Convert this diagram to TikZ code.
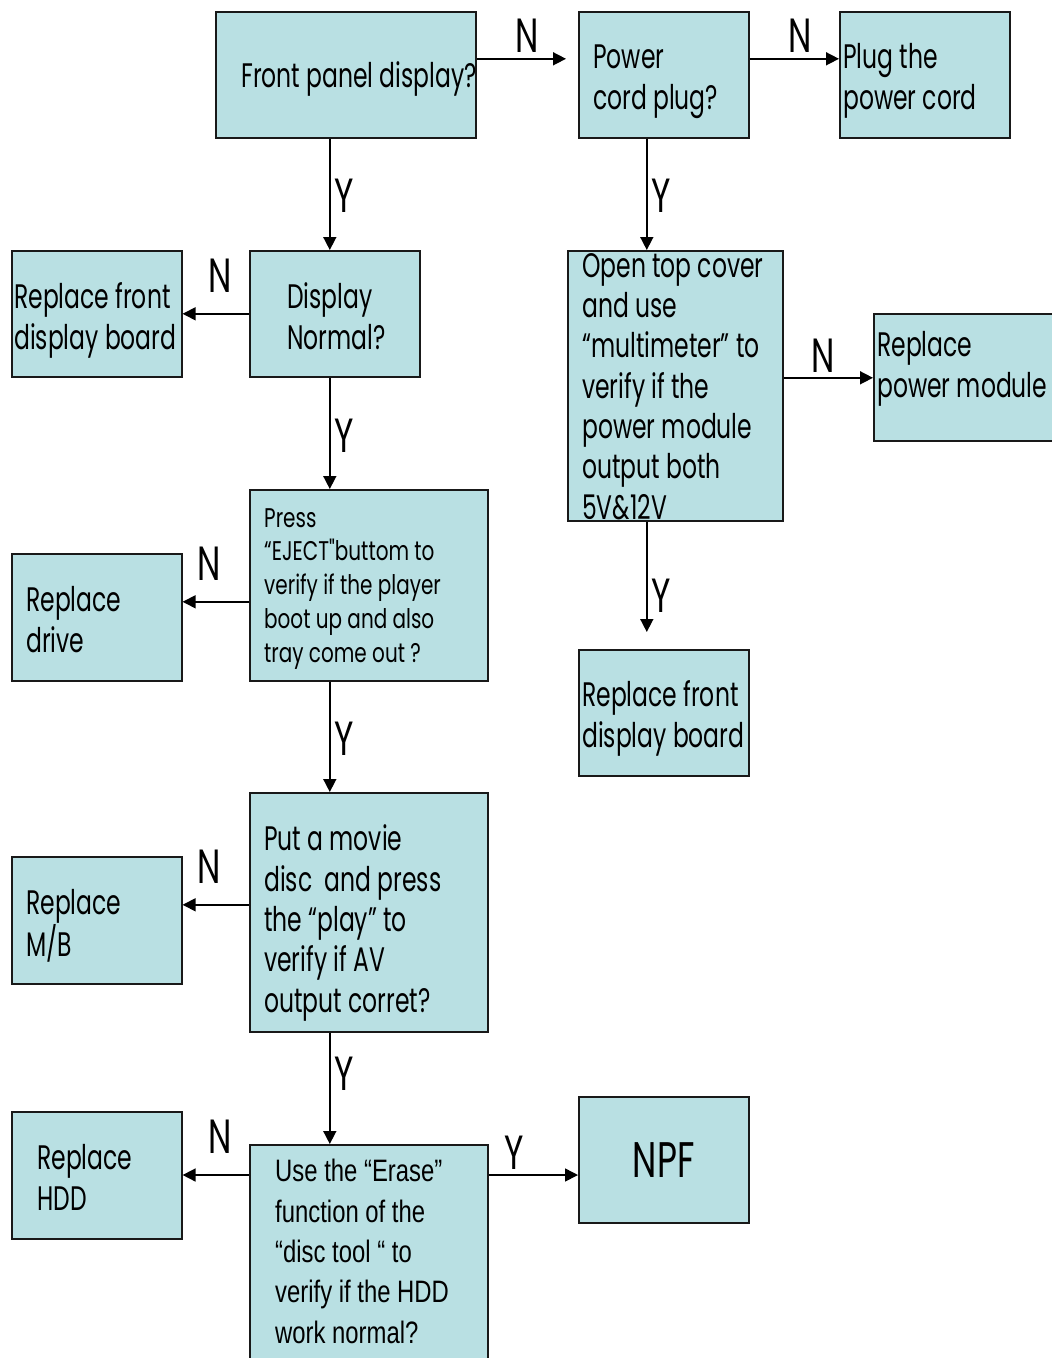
\documentclass[tikz,border=0pt]{standalone}
\usepackage{fontspec}
\setmainfont{Poppins}[FakeStretch=0.69]
\newfontfamily\ejectfont{Poppins}[FakeStretch=0.74]
\newfontfamily\narrowfont{Liberation Sans}[FakeStretch=0.77]
\usepackage{tikz}
\usetikzlibrary{positioning, arrows.meta}
\definecolor{boxblue}{HTML}{B9E0E3}

\begin{document}
\begin{tikzpicture}[x=1pt, y=-1pt,
  box/.style={draw=black!90, fill=boxblue, line width=1.6pt, anchor=north west, inner sep=0pt},
  % texts are placed by the baseline of their last line
  txt/.style={anchor=base west, align=left, inner sep=0pt, font=\fontsize{34}{40.3}\selectfont},
  smalltxt/.style={anchor=base west, align=left, inner sep=0pt, font=\ejectfont\fontsize{27}{33.7}\selectfont},
  narrowtxt/.style={anchor=base west, align=left, inner sep=0pt, font=\narrowfont\fontsize{31}{40.3}\selectfont},
  lbl/.style={inner sep=0pt, font=\fontsize{48}{48}\selectfont},
  arr/.style={-{Triangle[length=13pt,width=13pt]}, line width=1.6pt}]
\useasboundingbox (0,0) rectangle (1052,1358);

% Boxes
\node[box, minimum width=260pt, minimum height=126pt] (fpd) at (215,11) {};
\node[box, minimum width=170pt, minimum height=126pt] (pcp) at (578,11) {};
\node[box, minimum width=170pt, minimum height=126pt] (plug) at (839,11) {};
\node[box, minimum width=170pt, minimum height=126pt] (dn) at (249,250) {};
\node[box, minimum width=170pt, minimum height=126pt] (rfdA) at (11,250) {};
\node[box, minimum width=215pt, minimum height=270pt] (otc) at (567,250) {};
\node[box, minimum width=190pt, minimum height=127pt] (rpm) at (873,313) {};
\node[box, minimum width=170pt, minimum height=126pt] (rfdB) at (578,649) {};
\node[box, minimum width=238pt, minimum height=191pt] (eject) at (249,489) {};
\node[box, minimum width=170pt, minimum height=127pt] (rdrive) at (11,553) {};
\node[box, minimum width=238pt, minimum height=239pt] (movie) at (249,792) {};
\node[box, minimum width=170pt, minimum height=127pt] (rmb) at (11,856) {};
\node[box, minimum width=238pt, minimum height=220pt] (erase) at (249,1144) {};
\node[box, minimum width=170pt, minimum height=127pt] (rhdd) at (11,1111) {};
\node[box, minimum width=170pt, minimum height=126pt, font=\fontsize{50}{50}\selectfont] (npf) at (578,1096) {NPF};

% Texts
\node[txt] (fpd-t) at (241,87) {Front panel display?};
\node[txt] (pcp-t) at (593,109) {Power\\cord plug?};
\node[txt] (plug-t) at (843,109) {Plug the\\power cord};
\node[txt] (dn-t) at (287,349) {Display\\Normal?};
\node[txt] (rfdA-t) at (14,349) {Replace front\\display board};
\node[txt] (otc-t) at (582,519) {Open top cover\\and use\\“multimeter” to\\verify if the\\power module\\output both\\5V\&12V};
\node[txt] (rpm-t) at (877,397) {Replace\\power module};
\node[txt] (rfdB-t) at (582,747) {Replace front\\display board};
\node[smalltxt] (eject-t) at (264,662) {Press\\“EJECT"buttom to\\verify if the player\\boot up and also\\tray come out ?};
\node[txt] (rdrive-t) at (26,652) {Replace\\drive};
\node[txt] (movie-t) at (264,1012) {Put a movie\\disc\ \ and press\\the “play” to\\verify if AV\\output corret?};
\node[txt] (rmb-t) at (26,956) {Replace\\M/B};
\node[narrowtxt] (erase-t) at (275,1343) {Use the “Erase”\\function of the\\“disc tool “ to\\verify if the HDD\\work normal?};
\node[txt] (rhdd-t) at (37,1210) {Replace\\HDD};

% Connectors
\draw[arr, shorten >=12pt] ([yshift=16pt]fpd.east) -- node[lbl, above=6pt, pos=0.5] {N} ([yshift=16pt]fpd.east -| pcp.west);
\draw[arr] ([yshift=16pt]pcp.east) -- node[lbl, above=6pt, pos=0.56] {N} ([yshift=16pt]pcp.east -| plug.west);
\draw[arr] ([xshift=-16pt]fpd.south) -- node[lbl, right=4pt, pos=0.51] {Y} ([xshift=-16pt]fpd.south |- dn.north);
\draw[arr] ([xshift=-17pt]pcp.south) -- node[lbl, right=4pt, pos=0.51] {Y} ([xshift=-17pt]pcp.south |- otc.north);
\draw[arr] (dn.west) -- node[lbl, above=21pt, pos=0.43] {N} (dn.west -| rfdA.east);
\draw[arr] ([xshift=-5pt]dn.south) -- node[lbl, right=4pt, pos=0.52] {Y} ([xshift=-5pt]dn.south |- eject.north);
\draw[arr] ([yshift=8pt]otc.east) -- node[lbl, above=5pt, pos=0.44] {N} ([yshift=8pt]otc.east -| rpm.west);
\draw[arr, shorten >=17pt] ([xshift=-28.5pt]otc.south) -- node[lbl, right=4pt, pos=0.58] {Y} ([xshift=-28.5pt]otc.south |- rfdB.north);
\draw[arr] ([yshift=-16.5pt]eject.west) -- node[lbl, above=21pt, pos=0.6] {N} ([yshift=-16.5pt]eject.west -| rdrive.east);
\draw[arr] ([xshift=-39pt]eject.south) -- node[lbl, right=4pt, pos=0.52] {Y} ([xshift=-39pt]eject.south |- movie.north);
\draw[arr] ([yshift=7.5pt]movie.west) -- node[lbl, above=21pt, pos=0.6] {N} ([yshift=7.5pt]movie.west -| rmb.east);
\draw[arr] ([xshift=-39pt]movie.south) -- node[lbl, right=4pt, pos=0.37] {Y} ([xshift=-39pt]movie.south |- erase.north);
\draw[arr] ([yshift=-31pt]erase.north west) -- node[lbl, above=21pt, pos=0.43] {N} ([yshift=-31pt]erase.north west -| rhdd.east);
\draw[arr] ([yshift=-31pt]erase.north east) -- node[lbl, above=5pt, pos=0.29] {Y} ([yshift=-31pt]erase.north east -| npf.west);
\end{tikzpicture}
\end{document}
